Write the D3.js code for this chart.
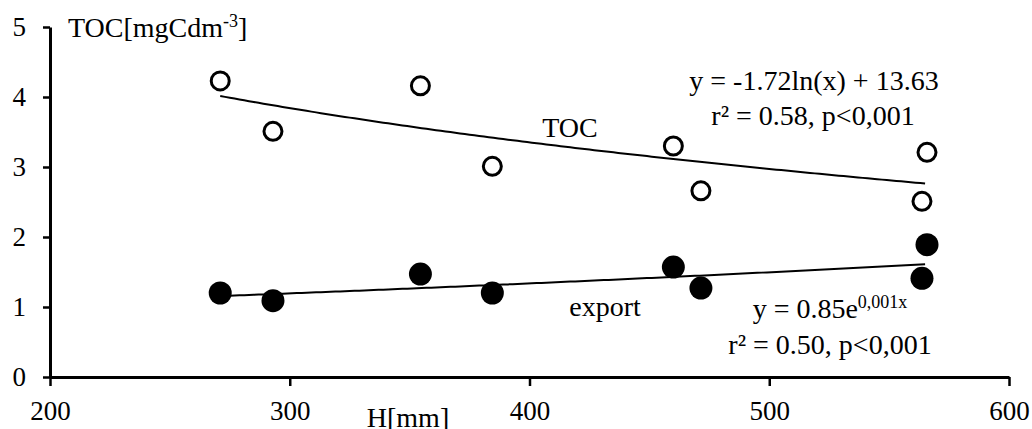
<!DOCTYPE html>
<html lang="en">

<head>
    <meta charset="UTF-8">
    <meta name="viewport" content="width=device-width, initial-scale=1.0">
    <title>TOC vs H</title>
    <script src="https://d3js.org/d3.v7.min.js"></script>
    <style>
        body { margin: 0; background: #fff; }
        text { font-family: "Liberation Serif", "Times New Roman", serif; fill: #000; }
    </style>
</head>

<body>
    <div id="my_dataviz"></div>
    <script>

        // data
        const hValues = [271, 293, 354.5, 384.5, 460, 471.5, 563.7, 565.8];
        const tocValues = [4.23, 3.51, 4.16, 3.01, 3.30, 2.66, 2.51, 3.21];
        const exportValues = [1.20, 1.09, 1.47, 1.20, 1.57, 1.27, 1.41, 1.89];
        const xTicks = [200, 300, 400, 500, 600];
        const yTicks = [0, 1, 2, 3, 4, 5];

        const width = 1032, height = 429;

        const svg = d3.select("#my_dataviz")
            .append("svg")
            .attr("width", width)
            .attr("height", height);

        const x = d3.scaleLinear().domain([200, 600]).range([50, 1009]);
        const y = d3.scaleLinear().domain([0, 5]).range([377, 27]);

        // axes
        const xAxis = svg.append("g")
            .attr("transform", `translate(0, ${y(0)})`)
            .call(d3.axisBottom(x).tickValues(xTicks).tickSize(9).tickSizeOuter(0).tickPadding(15));
        const yAxis = svg.append("g")
            .attr("transform", `translate(${x(200)}, 0)`)
            .call(d3.axisLeft(y).tickValues(yTicks).tickSize(7).tickSizeOuter(0).tickPadding(17).tickFormat(d3.format("d")));

        [xAxis, yAxis].forEach(function (g) {
            g.select(".domain").attr("stroke", "#000").attr("stroke-width", 3);
            g.selectAll(".tick line").attr("stroke", "#000").attr("stroke-width", 2.5);
            g.selectAll(".tick text")
                .style("font-family", '"Liberation Serif", serif')
                .style("font-size", "27px")
                .attr("fill", "#000");
        });

        // trend lines: log fit for TOC, exponential fit for export
        function fitLog(xs, ys) {
            const lx = xs.map(Math.log);
            const mx = d3.mean(lx), my = d3.mean(ys);
            const b = d3.sum(lx, (v, i) => (v - mx) * (ys[i] - my)) / d3.sum(lx, v => (v - mx) * (v - mx));
            const a = my - b * mx;
            return v => b * Math.log(v) + a;
        }
        function fitExp(xs, ys) {
            const ly = ys.map(Math.log);
            const mx = d3.mean(xs), my = d3.mean(ly);
            const b = d3.sum(xs, (v, i) => (v - mx) * (ly[i] - my)) / d3.sum(xs, v => (v - mx) * (v - mx));
            const a = Math.exp(my - b * mx);
            return v => a * Math.exp(b * v);
        }

        const xs = d3.range(d3.min(hValues), d3.max(hValues) + 0.01, 2);
        const line = d3.line().x(d => x(d[0])).y(d => y(d[1]));
        [fitLog(hValues, tocValues), fitExp(hValues, exportValues)].forEach(function (f) {
            svg.append("path")
                .attr("d", line(xs.map(v => [v, f(v)])))
                .attr("fill", "none")
                .attr("stroke", "#000")
                .attr("stroke-width", 2);
        });

        // points
        svg.selectAll(".toc")
            .data(hValues)
            .join("circle")
            .attr("class", "toc")
            .attr("cx", d => x(d))
            .attr("cy", (d, i) => y(tocValues[i]))
            .attr("r", 9)
            .attr("fill", "#fff")
            .attr("stroke", "#000")
            .attr("stroke-width", 3);

        svg.selectAll(".exp")
            .data(hValues)
            .join("circle")
            .attr("class", "exp")
            .attr("cx", d => x(d))
            .attr("cy", (d, i) => y(exportValues[i]))
            .attr("r", 11.5)
            .attr("fill", "#000");

        // labels
        const fs = "28px";
        const yTitle = svg.append("text").attr("x", 68).attr("y", 37).style("font-size", fs);
        yTitle.append("tspan").text("TOC[mgCdm");
        yTitle.append("tspan").attr("dy", -10).style("font-size", "18px").text("-3");
        yTitle.append("tspan").attr("dy", 10).text("]");

        svg.append("text")
            .attr("x", 408).attr("y", 427)
            .attr("text-anchor", "middle")
            .style("font-size", fs)
            .text("H[mm]");

        svg.append("text")
            .attr("x", 570).attr("y", 137)
            .attr("text-anchor", "middle")
            .style("font-size", fs)
            .text("TOC");

        svg.append("text")
            .attr("x", 605).attr("y", 316)
            .attr("text-anchor", "middle")
            .style("font-size", fs)
            .text("export");

        svg.append("text")
            .attr("x", 814).attr("y", 90)
            .attr("text-anchor", "middle")
            .style("font-size", fs)
            .text("y = -1.72ln(x) + 13.63");

        svg.append("text")
            .attr("x", 813).attr("y", 125)
            .attr("text-anchor", "middle")
            .style("font-size", fs)
            .text("r² = 0.58, p<0,001");

        const eq2 = svg.append("text")
            .attr("x", 830).attr("y", 318)
            .attr("text-anchor", "middle")
            .style("font-size", fs);
        eq2.append("tspan").text("y = 0.85e");
        eq2.append("tspan").attr("dy", -10).style("font-size", "18px").text("0,001x");

        svg.append("text")
            .attr("x", 830).attr("y", 354)
            .attr("text-anchor", "middle")
            .style("font-size", fs)
            .text("r² = 0.50, p<0,001");
    </script>
</body>

</html>
